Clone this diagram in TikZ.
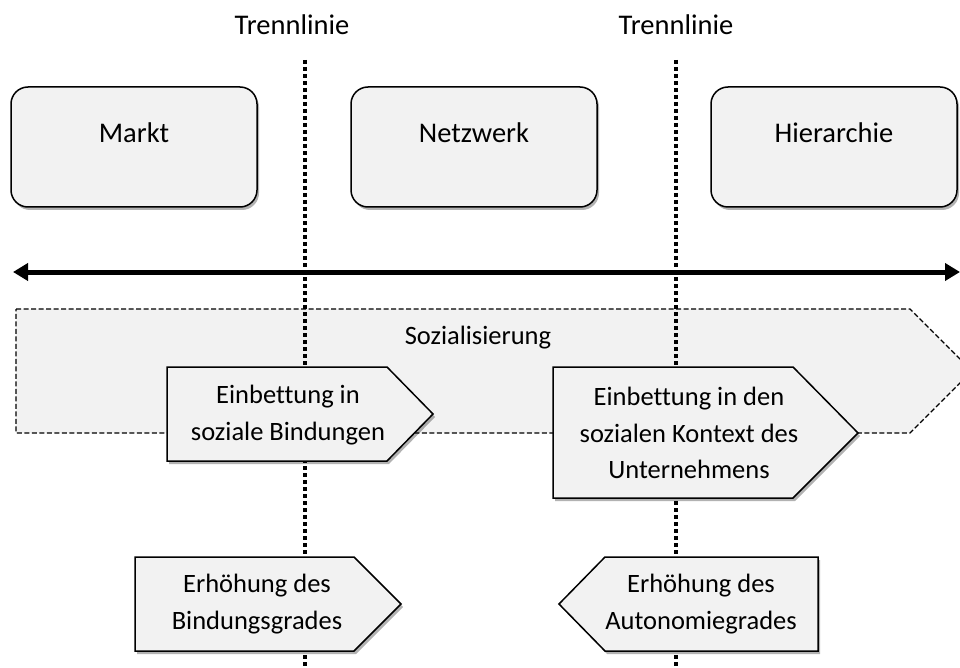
\documentclass[tikz,border=0pt]{standalone}
\usepackage{fontspec}
\setmainfont[Ligatures={NoCommon}]{Carlito}
\usetikzlibrary{arrows.meta,shadows}
\definecolor{boxfill}{HTML}{F2F2F2}
\begin{document}
\begin{tikzpicture}[x=1pt,y=-1pt,
  bigtext/.style={font=\fontsize{28.5}{34}\selectfont, inner sep=0pt},
  smalltext/.style={font=\fontsize{26.5}{36.5}\selectfont, align=center, inner sep=0pt},
  softshadow/.style={drop shadow={shadow xshift=2pt,shadow yshift=-3pt,opacity=0.3,fill=black}},
  roundbox/.style={draw=black, line width=1.5pt, fill=boxfill, rounded corners=17pt,
    minimum width=246pt, minimum height=120pt, inner sep=0pt, softshadow},
  pentbox/.style={draw=black, line width=1.5pt, fill=boxfill, line join=miter, softshadow},
  sepline/.style={line width=4pt, dash pattern=on 4pt off 3pt},
  socshape/.style={draw=black, line width=1.3pt, dash pattern=on 5pt off 2.5pt, fill=boxfill},
  bigarrow/.style={line width=5pt, {Triangle[length=15pt,width=17pt]}-{Triangle[length=15pt,width=17pt]}}
]
\useasboundingbox (0,0) rectangle (960,668);
\clip (0,0) rectangle (960,668);

% Sozialisierung band
\path[socshape] (16,309) -- (910,309) -- (972,371) -- (910,433) -- (16,433) -- cycle;

% separator lines
\coordinate (t1top) at (305,60);
\coordinate (t1bot) at (305,668);
\coordinate (t2top) at (676,60);
\coordinate (t2bot) at (676,668);
\draw[sepline] (t1top) -- (t1bot);
\draw[sepline] (t2top) -- (t2bot);

\node[bigtext] (trenn1) at (292,25) {Trennlinie};
\node[bigtext] (trenn2) at (676,25) {Trennlinie};

% top boxes
\node[roundbox] (markt) at (134,147) {};
\node[roundbox] (netz) at (474,147) {};
\node[roundbox] (hier) at (834,147) {};
\node[bigtext] (marktl) at (134,133) {Markt};
\node[bigtext] (netzl) at (474,133) {Netzwerk};
\node[bigtext] (hierl) at (834,133) {Hierarchie};

% axis arrow
\coordinate (axL) at (13,272);
\coordinate (axR) at (960,272);
\draw[bigarrow] (axL) -- (axR);

\node[smalltext] (sozial) at (478,338) {Sozialisierung};

% pentagons
\path[pentbox] (167,367) -- (387,367) -- (433,414) -- (387,461) -- (167,461) -- cycle;
\node[smalltext] (einb1) at (288,415) {Einbettung in\\soziale Bindungen};

\path[pentbox] (553,367) -- (793,367) -- (858,433) -- (793,498) -- (553,498) -- cycle;
\node[smalltext] (einb2) at (689,433) {Einbettung in den\\sozialen Kontext des\\Unternehmens};

\path[pentbox] (135,557) -- (354,557) -- (401,604) -- (354,651) -- (135,651) -- cycle;
\node[smalltext] (erh1) at (257,604) {Erhöhung des\\Bindungsgrades};

\path[pentbox] (818,557) -- (605,557) -- (559,604) -- (605,651) -- (818,651) -- cycle;
\node[smalltext] (erh2) at (701,604) {Erhöhung des\\Autonomiegrades};
\end{tikzpicture}
\end{document}
